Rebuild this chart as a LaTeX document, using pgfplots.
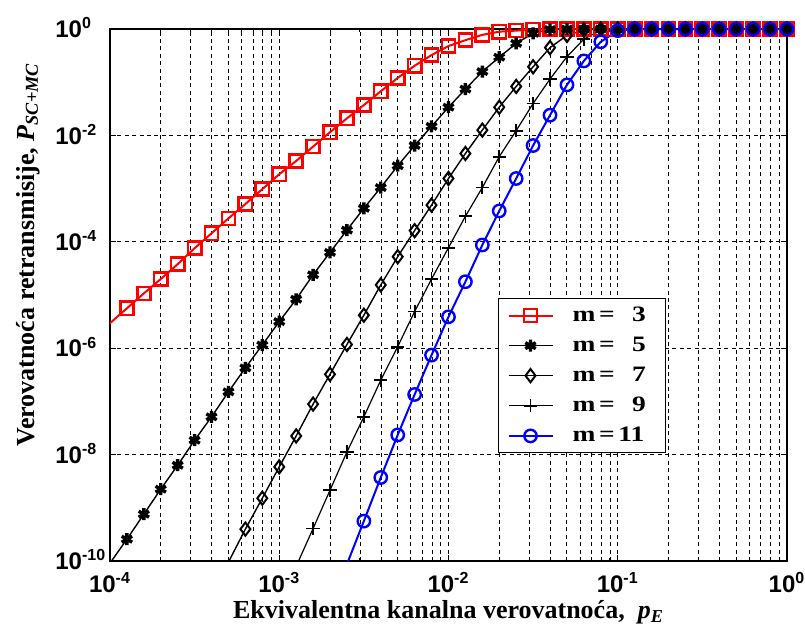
\documentclass[border=0pt]{standalone}
\usepackage{fontspec}
\setmainfont{Liberation Serif}
\newfontfamily\tickfont{Liberation Sans}
\newfontfamily\legfont{Liberation Serif}[FakeStretch=1.25]
\usepackage{pgfplots}
\pgfplotsset{compat=1.18}
\newcommand{\tl}[1]{{\tickfont\bfseries 10\textsuperscript{#1}}}
\newcommand{\legent}[1]{\makebox[40pt][l]{m\,=\,#1}}
\begin{document}
\begin{tikzpicture}
\begin{axis}[
 at={(0pt,0pt)}, anchor=south west,
 width=338.5pt, height=266pt, scale only axis,
 xmode=log, ymode=log,
 xmin=1e-4, xmax=1, ymin=1e-10, ymax=1,
 xtick={1e-4,1e-3,1e-2,1e-1,1},
 xticklabels={\tl{-4},\tl{-3},\tl{-2},\tl{-1},\tl{0}},
 ytick={1e-10,1e-8,1e-6,1e-4,1e-2,1},
 yticklabels={\tl{-10},\tl{-8},\tl{-6},\tl{-4},\tl{-2},\tl{0}},
 ticklabel style={font=\fontsize{12}{14}\selectfont},
 xticklabel style={inner sep=0pt, anchor=north, yshift=-5.5pt},
 yticklabel style={inner sep=0pt, anchor=base west, xshift=-27.5pt, yshift=-4.3pt},
 xmajorgrids, xminorgrids, ymajorgrids, yminorticks=false,
 major grid style={black, line width=0.45pt, dash pattern=on 2pt off 1.7pt},
 minor grid style={black, line width=0.45pt, dash pattern=on 2pt off 1.7pt},
 tick align=inside, major tick length=3pt, minor tick length=1.5pt,
 tick style={black, line width=0.5pt},
 axis line style={black, line width=0.7pt},
 clip marker paths=false,
 xlabel={Ekvivalentna kanalna verovatnoća,\ \ \textit{p}\textsubscript{\textit{E}}},
 ylabel={Verovatnoća retransmisije, \textit{P}\textsubscript{\textit{SC+MC}}},
 xlabel style={font=\bfseries\fontsize{13}{15}\selectfont, at={(axis description cs:0.5,-0.109)}, anchor=base},
 ylabel style={font=\bfseries\fontsize{13}{15}\selectfont, at={(axis description cs:-0.112,0.576)}, anchor=base, rotate=0},
 legend style={at={(0.573,0.494)}, anchor=north west, draw=black, line width=0.6pt,
   font=\legfont\bfseries\fontsize{11}{13}\selectfont, row sep=2.3pt, column sep=7.5pt,
   inner xsep=4.5pt, inner ysep=2pt, cells={anchor=west}},
 legend image code/.code={\draw[mark repeat=2,mark phase=2] plot coordinates {(0pt,0pt) (11pt,0pt) (22pt,0pt)};},
]
% m = 3
\addplot[red, line width=1pt, mark=square, mark size=3.3pt, mark options={line width=1.3pt, solid}, mark phase=2] coordinates {
(7.943e-5,1.549e-6) (1e-4,2.951e-6) (1.259e-4,5.623e-6) (1.585e-4,1.072e-5) (1.995e-4,1.995e-5)
(2.512e-4,3.802e-5) (3.162e-4,7.586e-5) (3.981e-4,1.445e-4) (5.012e-4,2.754e-4) (6.310e-4,5.129e-4)
(7.943e-4,9.772e-4) (1e-3,1.862e-3) (1.259e-3,3.311e-3) (1.585e-3,6.166e-3) (1.995e-3,1.148e-2)
(2.512e-3,2.089e-2) (3.162e-3,3.715e-2) (3.981e-3,6.761e-2) (5.012e-3,0.1202) (6.310e-3,0.2042)
(7.943e-3,0.3236) (1e-2,0.4786) (1.259e-2,0.6166) (1.585e-2,0.7762) (1.995e-2,0.8913)
(2.512e-2,0.9333) (3.162e-2,0.9772) (3.981e-2,0.995) (5.012e-2,1) (6.310e-2,1)
(7.943e-2,1) (0.1,1) (0.1259,1) (0.1585,1) (0.1995,1) (0.2512,1) (0.3162,1) (0.3981,1)
(0.5012,1) (0.6310,1) (0.7943,1) (1,1)};
\addlegendentry{\legent{\hphantom{1}3}}
% m = 5
\addplot[black, line width=0.7pt, mark=asterisk, mark size=3pt, mark options={line width=1.7pt, solid}, mark phase=1] coordinates {
(1e-4,9.120e-11) (1.259e-4,2.570e-10) (1.585e-4,7.586e-10) (1.995e-4,2.239e-9) (2.512e-4,6.310e-9)
(3.162e-4,1.862e-8) (3.981e-4,5.129e-8) (5.012e-4,1.514e-7) (6.310e-4,4.266e-7) (7.943e-4,1.148e-6)
(1e-3,3.162e-6) (1.259e-3,8.318e-6) (1.585e-3,2.399e-5) (1.995e-3,6.310e-5) (2.512e-3,1.660e-4)
(3.162e-3,4.266e-4) (3.981e-3,1.047e-3) (5.012e-3,2.692e-3) (6.310e-3,6.457e-3) (7.943e-3,1.479e-2)
(1e-2,3.388e-2) (1.259e-2,7.413e-2) (1.585e-2,0.1585) (1.995e-2,0.2951) (2.512e-2,0.5370)
(3.162e-2,0.8318) (3.981e-2,0.9772) (5.012e-2,1) (6.310e-2,1) (7.943e-2,1)
(0.1,1) (0.1259,1) (0.1585,1) (0.1995,1) (0.2512,1) (0.3162,1) (0.3981,1)
(0.5012,1) (0.6310,1) (0.7943,1) (1,1)};
\addlegendentry{\legent{\hphantom{1}5}}
% m = 7
\addplot[black, line width=0.7pt, mark=diamond, mark size=3.3pt, mark options={line width=1pt, solid}, mark phase=1] coordinates {
(5.012e-4,9.550e-11) (6.310e-4,3.981e-10) (7.943e-4,1.514e-9) (1e-3,5.888e-9) (1.259e-3,2.239e-8)
(1.585e-3,8.913e-8) (1.995e-3,3.236e-7) (2.512e-3,1.175e-6) (3.162e-3,4.169e-6) (3.981e-3,1.549e-5)
(5.012e-3,5.248e-5) (6.310e-3,1.622e-4) (7.943e-3,4.898e-4) (1e-2,1.549e-3) (1.259e-2,4.571e-3)
(1.585e-2,1.259e-2) (1.995e-2,3.388e-2) (2.512e-2,8.318e-2) (3.162e-2,0.1950) (3.981e-2,0.4467)
(5.012e-2,0.7586) (6.310e-2,0.9550) (7.943e-2,1)
(0.1,1) (0.1259,1) (0.1585,1) (0.1995,1) (0.2512,1) (0.3162,1) (0.3981,1)
(0.5012,1) (0.6310,1) (0.7943,1) (1,1)};
\addlegendentry{\legent{\hphantom{1}7}}
% m = 9
\addplot[black, line width=0.6pt, mark=+, mark size=3.3pt, mark options={line width=0.9pt, solid}, mark phase=1] coordinates {
(1.259e-3,7.943e-11) (1.585e-3,4.074e-10) (1.995e-3,2.138e-9) (2.512e-3,1.122e-8) (3.162e-3,5.129e-8)
(3.981e-3,2.512e-7) (5.012e-3,1.072e-6) (6.310e-3,4.898e-6) (7.943e-3,1.995e-5) (1e-2,7.762e-5)
(1.259e-2,3.020e-4) (1.585e-2,1.047e-3) (1.995e-2,3.981e-3) (2.512e-2,1.230e-2) (3.162e-2,3.981e-2)
(3.981e-2,0.1148) (5.012e-2,0.3020) (6.310e-2,0.6457) (7.943e-2,0.9550)
(0.1,1) (0.1259,1) (0.1585,1) (0.1995,1) (0.2512,1) (0.3162,1) (0.3981,1)
(0.5012,1) (0.6310,1) (0.7943,1) (1,1)};
\addlegendentry{\legent{\hphantom{1}9}}
% m = 11
\addplot[blue, line width=1pt, mark=o, mark size=3.1pt, mark options={line width=1.2pt, solid}, mark phase=1] coordinates {
(2.512e-3,8.710e-11) (3.162e-3,5.623e-10) (3.981e-3,3.715e-9) (5.012e-3,2.344e-8) (6.310e-3,1.349e-7)
(7.943e-3,7.413e-7) (1e-2,3.890e-6) (1.259e-2,1.778e-5) (1.585e-2,8.710e-5) (1.995e-2,3.802e-4)
(2.512e-2,1.549e-3) (3.162e-2,6.457e-3) (3.981e-2,2.399e-2) (5.012e-2,8.913e-2) (6.310e-2,0.2512)
(7.943e-2,0.5754) (0.1,0.9333)
(0.1259,1) (0.1585,1) (0.1995,1) (0.2512,1) (0.3162,1) (0.3981,1)
(0.5012,1) (0.6310,1) (0.7943,1) (1,1)};
\addlegendentry{\legent{11}}
\end{axis}
\pgfresetboundingbox
\path[use as bounding box] (-55pt,-33.5pt) rectangle (347.5pt,280.5pt);
\end{tikzpicture}
\end{document}
